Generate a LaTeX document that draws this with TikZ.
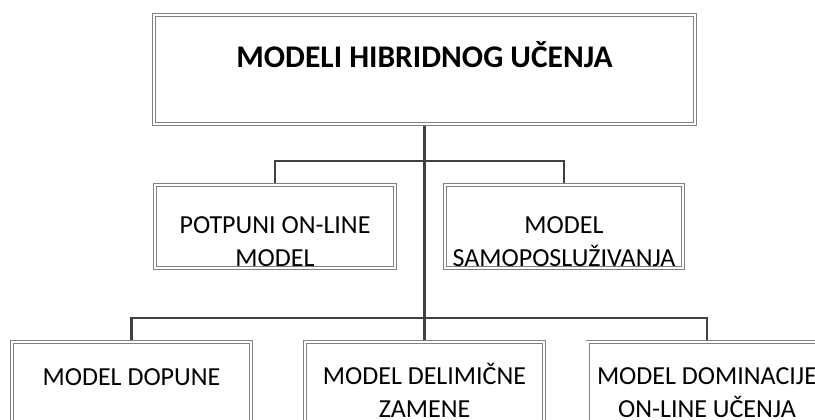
\documentclass[tikz,border=0pt]{standalone}
\usepackage{fontspec}
\setmainfont{Carlito}
\usetikzlibrary{backgrounds}

\tikzset{
	okvir/.style={rectangle, draw=gray, double=white, double distance=2.4pt, line width=0.8pt, fill=white, inner sep=0pt},
	natpis/.style={align=center, anchor=base, inner sep=0pt, font=\fontsize{26}{33}\selectfont},
	veza/.style={draw=black!75, line width=2.2pt}
}

\begin{document}
\begin{tikzpicture}[x=1pt,y=-1pt]
	\useasboundingbox (0,0) rectangle (815,420);
	\clip (0,0) rectangle (815,420);
	\coordinate (busA) at (424.5,161);
	\coordinate (busB) at (424.5,318);
	\node[okvir, minimum width=541pt, minimum height=109pt] (hibrid) at (424.5,69.5) {};
	\node[okvir, minimum width=240pt, minimum height=83pt] (potpuni) at (275,226.5) {};
	\node[okvir, minimum width=238pt, minimum height=83pt] (samopos) at (564,226.5) {};
	\node[okvir, minimum width=239pt, minimum height=100pt] (dopune) at (131.5,392) {};
	\node[okvir, minimum width=239pt, minimum height=100pt] (zamene) at (424.5,392) {};
	\node[okvir, minimum width=239pt, minimum height=100pt] (dominacija) at (707,392) {};
	\node[natpis, font=\fontsize{31.5}{38}\selectfont\bfseries] (hibridT) at (424.5,68) {MODELI HIBRIDNOG UČENJA};
	\node[natpis] (potpuniT) at (275,266) {POTPUNI ON-LINE\\MODEL};
	\node[natpis] (samoposT) at (564,266) {MODEL\\SAMOPOSLUŽIVANJA};
	\node[natpis] (dopuneT) at (131.5,385) {MODEL DOPUNE};
	\node[natpis] (zameneT) at (424.5,417) {MODEL DELIMIČNE\\ZAMENE};
	\node[natpis] (dominacijaT) at (707,417) {MODEL DOMINACIJE\\ON-LINE UČENJA};
	\begin{scope}[on background layer]
		\draw[veza] (hibrid.south) -- (zamene.north);
		\draw[veza] (potpuni.north) |- (busA) -| (samopos.north);
		\draw[veza] (dopune.north) |- (busB) -| (dominacija.north);
	\end{scope}
\end{tikzpicture}
\end{document}
